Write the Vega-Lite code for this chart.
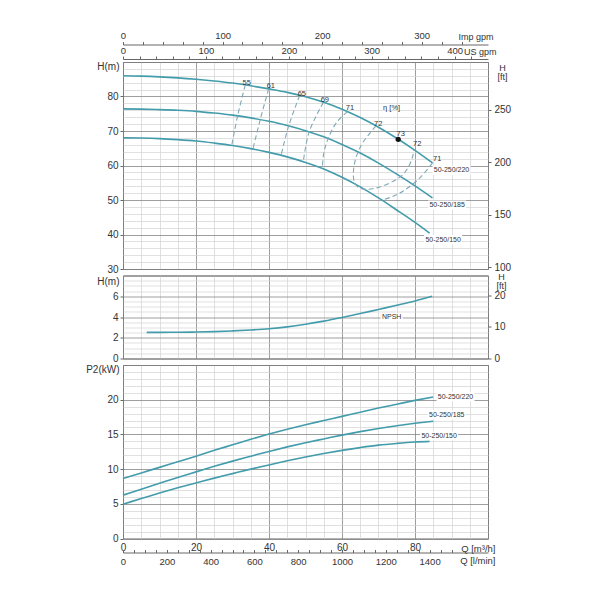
{
  "$schema": "https://vega.github.io/schema/vega-lite/v6.json",
  "background": "white",
  "padding": {"left": 85, "top": 30, "right": 92, "bottom": 35},
  "config": {
    "font": "Liberation Sans",
    "view": {"stroke": "#666666", "strokeWidth": 1},
    "axis": {
      "labelColor": "#333333", "titleColor": "#333333", "tickColor": "#666666", "domainColor": "#666666",
      "labelFontSize": 10, "titleFontSize": 10, "titleFontWeight": "normal",
      "labelOverlap": false, "labelFlush": false
    }
  },
  "datasets": {
    "head": [
      {"pump": "220", "Q": 0, "H": 86.0}, {"pump": "220", "Q": 5, "H": 85.9}, {"pump": "220", "Q": 10, "H": 85.7},
      {"pump": "220", "Q": 15, "H": 85.4}, {"pump": "220", "Q": 20, "H": 85.0}, {"pump": "220", "Q": 25, "H": 84.5},
      {"pump": "220", "Q": 30, "H": 83.9}, {"pump": "220", "Q": 35, "H": 83.1}, {"pump": "220", "Q": 40, "H": 82.2},
      {"pump": "220", "Q": 45, "H": 81.2}, {"pump": "220", "Q": 50, "H": 79.9}, {"pump": "220", "Q": 55, "H": 78.3},
      {"pump": "220", "Q": 60, "H": 76.3}, {"pump": "220", "Q": 65, "H": 73.9}, {"pump": "220", "Q": 70, "H": 71.1},
      {"pump": "220", "Q": 75, "H": 67.9}, {"pump": "220", "Q": 80, "H": 64.4}, {"pump": "220", "Q": 84.8, "H": 60.75},
      {"pump": "185", "Q": 0, "H": 76.4}, {"pump": "185", "Q": 5, "H": 76.35}, {"pump": "185", "Q": 10, "H": 76.2},
      {"pump": "185", "Q": 15, "H": 76.0}, {"pump": "185", "Q": 20, "H": 75.7}, {"pump": "185", "Q": 25, "H": 75.2},
      {"pump": "185", "Q": 30, "H": 74.6}, {"pump": "185", "Q": 35, "H": 73.8}, {"pump": "185", "Q": 40, "H": 72.8},
      {"pump": "185", "Q": 45, "H": 71.6}, {"pump": "185", "Q": 50, "H": 70.1}, {"pump": "185", "Q": 55, "H": 68.3},
      {"pump": "185", "Q": 60, "H": 66.1}, {"pump": "185", "Q": 65, "H": 63.6}, {"pump": "185", "Q": 70, "H": 60.7},
      {"pump": "185", "Q": 75, "H": 57.5}, {"pump": "185", "Q": 80, "H": 54.1}, {"pump": "185", "Q": 84.8, "H": 50.6},
      {"pump": "150", "Q": 0, "H": 68.0}, {"pump": "150", "Q": 5, "H": 67.95}, {"pump": "150", "Q": 10, "H": 67.8},
      {"pump": "150", "Q": 15, "H": 67.5}, {"pump": "150", "Q": 20, "H": 67.1}, {"pump": "150", "Q": 25, "H": 66.5},
      {"pump": "150", "Q": 30, "H": 65.8}, {"pump": "150", "Q": 35, "H": 64.9}, {"pump": "150", "Q": 40, "H": 63.8},
      {"pump": "150", "Q": 45, "H": 62.5}, {"pump": "150", "Q": 50, "H": 60.9}, {"pump": "150", "Q": 55, "H": 59.0},
      {"pump": "150", "Q": 60, "H": 56.6}, {"pump": "150", "Q": 65, "H": 53.8}, {"pump": "150", "Q": 70, "H": 50.6},
      {"pump": "150", "Q": 75, "H": 47.1}, {"pump": "150", "Q": 80, "H": 43.5}, {"pump": "150", "Q": 84, "H": 40.4}
    ],
    "eff": [
      {"id": "55", "k": 1, "Q": 33.5, "H": 83.35}, {"id": "55", "k": 2, "Q": 31.4, "H": 74.4}, {"id": "55", "k": 3, "Q": 29.8, "H": 65.85},
      {"id": "61", "k": 1, "Q": 39.9, "H": 82.2}, {"id": "61", "k": 2, "Q": 37.6, "H": 73.3}, {"id": "61", "k": 3, "Q": 35.6, "H": 64.8},
      {"id": "65", "k": 1, "Q": 48.4, "H": 80.3}, {"id": "65", "k": 2, "Q": 45.4, "H": 71.5}, {"id": "65", "k": 3, "Q": 43.3, "H": 62.95},
      {"id": "69", "k": 1, "Q": 54.9, "H": 78.3}, {"id": "69", "k": 2, "Q": 51.0, "H": 69.75}, {"id": "69", "k": 3, "Q": 49.4, "H": 61.1},
      {"id": "71L", "k": 1, "Q": 61.5, "H": 75.6}, {"id": "71L", "k": 2, "Q": 58.6, "H": 72.6}, {"id": "71L", "k": 3, "Q": 56.2, "H": 67.8},
      {"id": "71L", "k": 4, "Q": 55.0, "H": 63.5}, {"id": "71L", "k": 5, "Q": 54.6, "H": 59.15},
      {"id": "71R", "k": 1, "Q": 84.8, "H": 60.75}, {"id": "71R", "k": 2, "Q": 81.4, "H": 56.5}, {"id": "71R", "k": 3, "Q": 76.8, "H": 52.6},
      {"id": "71R", "k": 4, "Q": 73.6, "H": 50.9}, {"id": "71R", "k": 5, "Q": 70.9, "H": 49.95},
      {"id": "72", "k": 1, "Q": 69.3, "H": 71.5}, {"id": "72", "k": 2, "Q": 67.2, "H": 68.8}, {"id": "72", "k": 3, "Q": 65.4, "H": 66.1},
      {"id": "72", "k": 4, "Q": 63.9, "H": 62.5}, {"id": "72", "k": 5, "Q": 63.2, "H": 59.0}, {"id": "72", "k": 6, "Q": 63.3, "H": 55.5},
      {"id": "72", "k": 7, "Q": 64.4, "H": 53.7}, {"id": "72", "k": 8, "Q": 66.3, "H": 53.1}, {"id": "72", "k": 9, "Q": 69.0, "H": 53.4},
      {"id": "72", "k": 10, "Q": 72.2, "H": 54.5}, {"id": "72", "k": 11, "Q": 74.8, "H": 55.9}, {"id": "72", "k": 12, "Q": 76.8, "H": 57.5},
      {"id": "72", "k": 13, "Q": 78.4, "H": 60.0}, {"id": "72", "k": 14, "Q": 79.4, "H": 62.8}, {"id": "72", "k": 15, "Q": 79.7, "H": 64.6}
    ],
    "effLabels": [
      {"t": "55", "Q": 33.9, "H": 83.95}, {"t": "61", "Q": 40.5, "H": 83.0}, {"t": "65", "Q": 49.0, "H": 80.8},
      {"t": "69", "Q": 55.3, "H": 78.9}, {"t": "71", "Q": 62.2, "H": 76.6}, {"t": "72", "Q": 69.9, "H": 72.1},
      {"t": "73", "Q": 76.1, "H": 69.0}, {"t": "72", "Q": 80.6, "H": 66.1}, {"t": "71", "Q": 86.1, "H": 61.8},
      {"t": "η [%]", "Q": 73.6, "H": 76.6}
    ],
    "bep": [{"Q": 75.4, "H": 67.6}],
    "headLabels": [
      {"t": "50-250/220", "Q": 90.0, "H": 58.6},
      {"t": "50-250/185", "Q": 88.8, "H": 48.55},
      {"t": "50-250/150", "Q": 87.7, "H": 38.5}
    ],
    "npsh": [
      {"Q": 6.5, "H": 2.52}, {"Q": 10, "H": 2.52}, {"Q": 15, "H": 2.53}, {"Q": 20, "H": 2.55}, {"Q": 25, "H": 2.59},
      {"Q": 30, "H": 2.66}, {"Q": 35, "H": 2.75}, {"Q": 40, "H": 2.87}, {"Q": 45, "H": 3.05}, {"Q": 50, "H": 3.3},
      {"Q": 55, "H": 3.6}, {"Q": 60, "H": 3.95}, {"Q": 65, "H": 4.33}, {"Q": 70, "H": 4.73}, {"Q": 75, "H": 5.13},
      {"Q": 80, "H": 5.55}, {"Q": 84.7, "H": 6.0}
    ],
    "npshLabel": [{"t": "NPSH", "Q": 73.6, "H": 4.0}],
    "power": [
      {"pump": "220", "Q": 0, "P": 8.65}, {"pump": "220", "Q": 5, "P": 9.45}, {"pump": "220", "Q": 10, "P": 10.25},
      {"pump": "220", "Q": 15, "P": 11.05}, {"pump": "220", "Q": 20, "P": 11.85}, {"pump": "220", "Q": 25, "P": 12.7},
      {"pump": "220", "Q": 30, "P": 13.5}, {"pump": "220", "Q": 35, "P": 14.3}, {"pump": "220", "Q": 40, "P": 15.05},
      {"pump": "220", "Q": 45, "P": 15.75}, {"pump": "220", "Q": 50, "P": 16.4}, {"pump": "220", "Q": 55, "P": 17.0},
      {"pump": "220", "Q": 60, "P": 17.6}, {"pump": "220", "Q": 65, "P": 18.2}, {"pump": "220", "Q": 70, "P": 18.8},
      {"pump": "220", "Q": 75, "P": 19.35}, {"pump": "220", "Q": 80, "P": 19.9}, {"pump": "220", "Q": 85, "P": 20.4},
      {"pump": "185", "Q": 0, "P": 6.25}, {"pump": "185", "Q": 5, "P": 7.1}, {"pump": "185", "Q": 10, "P": 7.95},
      {"pump": "185", "Q": 15, "P": 8.8}, {"pump": "185", "Q": 20, "P": 9.6}, {"pump": "185", "Q": 25, "P": 10.4},
      {"pump": "185", "Q": 30, "P": 11.15}, {"pump": "185", "Q": 35, "P": 11.85}, {"pump": "185", "Q": 40, "P": 12.55},
      {"pump": "185", "Q": 45, "P": 13.2}, {"pump": "185", "Q": 50, "P": 13.8}, {"pump": "185", "Q": 55, "P": 14.35},
      {"pump": "185", "Q": 60, "P": 14.9}, {"pump": "185", "Q": 65, "P": 15.4}, {"pump": "185", "Q": 70, "P": 15.85},
      {"pump": "185", "Q": 75, "P": 16.25}, {"pump": "185", "Q": 80, "P": 16.6}, {"pump": "185", "Q": 85, "P": 16.9},
      {"pump": "150", "Q": 0, "P": 4.95}, {"pump": "150", "Q": 5, "P": 5.75}, {"pump": "150", "Q": 10, "P": 6.55},
      {"pump": "150", "Q": 15, "P": 7.3}, {"pump": "150", "Q": 20, "P": 8.0}, {"pump": "150", "Q": 25, "P": 8.7},
      {"pump": "150", "Q": 30, "P": 9.35}, {"pump": "150", "Q": 35, "P": 10.0}, {"pump": "150", "Q": 40, "P": 10.6},
      {"pump": "150", "Q": 45, "P": 11.2}, {"pump": "150", "Q": 50, "P": 11.75}, {"pump": "150", "Q": 55, "P": 12.25},
      {"pump": "150", "Q": 60, "P": 12.7}, {"pump": "150", "Q": 65, "P": 13.1}, {"pump": "150", "Q": 70, "P": 13.45},
      {"pump": "150", "Q": 75, "P": 13.7}, {"pump": "150", "Q": 80, "P": 13.9}, {"pump": "150", "Q": 84, "P": 14.0}
    ],
    "powerLabels": [
      {"t": "50-250/220", "Q": 91.1, "P": 20.45},
      {"t": "50-250/185", "Q": 88.7, "P": 17.8},
      {"t": "50-250/150", "Q": 86.6, "P": 14.8}
    ]
  },
  "spacing": 6.5,
  "bounds": "flush",
  "vconcat": [
    {
      "width": 365,
      "height": 207,
      "resolve": {"scale": {"x": "independent", "y": "independent"}},
      "layer": [
        {
          "data": {"name": "head"},
          "mark": {"type": "line", "color": "#439cab", "strokeWidth": 1.6, "interpolate": "monotone"},
          "encoding": {
            "x": {"field": "Q", "type": "quantitative", "scale": {"domain": [0, 100], "nice": false, "zero": false},
              "axis": {"orient": "bottom", "values": [0,5,10,15,20,25,30,35,40,45,50,55,60,65,70,75,80,85,90,95,100], "grid": true,
                "gridColor": {"condition": {"test": "datum.value % 20 == 0", "value": "#858585"}, "value": "#d2d2d2"},
                "gridWidth": {"condition": {"test": "datum.value % 20 == 0", "value": 0.8}, "value": 0.7},
                "labels": false, "ticks": false, "domain": false, "title": null}},
            "y": {"field": "H", "type": "quantitative", "scale": {"domain": [30, 90], "nice": false, "zero": false},
              "axis": {"orient": "left", "values": [30,32,34,36,38,40,42,44,46,48,50,52,54,56,58,60,62,64,66,68,70,72,74,76,78,80,82,84,86,88,90], "grid": true,
                "gridColor": {"condition": {"test": "datum.value % 10 == 0", "value": "#858585"}, "value": "#d2d2d2"},
                "gridWidth": {"condition": {"test": "datum.value % 10 == 0", "value": 0.8}, "value": 0.7},
                "labels": false, "ticks": false, "domain": false, "title": null}},
            "detail": {"field": "pump", "type": "nominal"}
          }
        },
        {
          "data": {"name": "eff"},
          "mark": {"type": "line", "color": "#7fa9b6", "strokeWidth": 1.1, "strokeDash": [5, 3], "interpolate": "catmull-rom"},
          "encoding": {
            "x": {"field": "Q", "type": "quantitative", "scale": {"domain": [0, 100], "nice": false, "zero": false}, "axis": null},
            "y": {"field": "H", "type": "quantitative", "scale": {"domain": [30, 90], "nice": false, "zero": false},
              "axis": {"orient": "left", "values": [30,40,50,60,70,80], "grid": false, "domain": false, "tickSize": 3, "labelPadding": 2,
                "title": "H(m)", "titleAngle": 0, "titleAlign": "right", "titleBaseline": "middle", "titleX": -4, "titleY": 4}},
            "detail": {"field": "id", "type": "nominal"},
            "order": {"field": "k", "type": "quantitative"}
          }
        },
        {
          "data": {"name": "headLabels"},
          "mark": {"type": "point", "shape": "M-1,-0.24H1V0.24H-1Z", "size": 1444, "filled": true, "color": "white", "opacity": 1, "strokeWidth": 0},
          "encoding": {
            "x": {"field": "Q", "type": "quantitative", "scale": {"domain": [0, 100], "nice": false, "zero": false},
              "axis": {"orient": "top", "offset": 17.5, "values": [0,5.4553,10.9106,16.3659,21.8212,27.2765,32.7318,38.1872,43.6425,49.0978,54.5531,60.0084,65.4637,70.919,76.3743,81.8296,87.2849,92.7402],
                "labelExpr": "round(datum.value/0.2727654) % 100 == 0 ? '' + round(datum.value/0.2727654) : ''",
                "grid": false, "tickSize": 3, "labelPadding": 1, "labelFontSize": 9.5,
                "title": "Imp gpm", "titleFontSize": 9, "titleAlign": "right", "titleBaseline": "middle", "titleX": 370, "titleY": -8}},
            "y": {"field": "H", "type": "quantitative", "scale": {"domain": [30, 90], "nice": false, "zero": false},
              "axis": {"orient": "right", "values": [30.48, 45.72, 60.96, 76.2], "labelExpr": "'' + round(datum.value/0.3048)",
                "grid": false, "domain": false, "tickSize": 3, "labelPadding": 3,
                "title": ["H", "[ft]"], "titleFontSize": 9, "titleLineHeight": 9, "titleAngle": 0, "titleAlign": "center", "titleBaseline": "top", "titleX": 14, "titleY": 1.5}}
          }
        },
        {
          "data": {"name": "headLabels"},
          "mark": {"type": "text", "fontSize": 7, "color": "#333333", "align": "center", "baseline": "middle"},
          "encoding": {
            "x": {"field": "Q", "type": "quantitative", "scale": {"domain": [0, 100], "nice": false, "zero": false},
              "axis": {"orient": "top", "offset": 3, "values": [0,4.5425,9.085,13.6275,18.17,22.7125,27.255,31.7975,36.34,40.8824,45.4249,49.9674,54.5099,59.0524,63.5949,68.1374,72.6799,77.2224,81.7649,86.3074,90.8499,95.3924],
                "labelExpr": "round(datum.value/0.2271247) % 100 == 0 ? '' + round(datum.value/0.2271247) : ''",
                "grid": false, "tickSize": 3, "labelPadding": 1, "labelFontSize": 9.5,
                "title": "US gpm", "titleFontSize": 9, "titleAlign": "right", "titleBaseline": "middle", "titleX": 373, "titleY": -8}},
            "y": {"field": "H", "type": "quantitative", "scale": {"domain": [30, 90], "nice": false, "zero": false}, "axis": null},
            "text": {"field": "t"}
          }
        },
        {
          "data": {"name": "effLabels"},
          "mark": {"type": "text", "fontSize": 7.5, "color": "#333333", "align": "center", "baseline": "middle"},
          "encoding": {
            "x": {"field": "Q", "type": "quantitative", "scale": {"domain": [0, 100], "nice": false, "zero": false}, "axis": null},
            "y": {"field": "H", "type": "quantitative", "scale": {"domain": [30, 90], "nice": false, "zero": false}, "axis": null},
            "text": {"field": "t"}
          }
        },
        {
          "data": {"name": "bep"},
          "mark": {"type": "point", "shape": "circle", "size": 28, "filled": true, "color": "#111111", "opacity": 1},
          "encoding": {
            "x": {"field": "Q", "type": "quantitative", "scale": {"domain": [0, 100], "nice": false, "zero": false}, "axis": null},
            "y": {"field": "H", "type": "quantitative", "scale": {"domain": [30, 90], "nice": false, "zero": false}, "axis": null}
          }
        }
      ]
    },
    {
      "width": 365,
      "height": 83,
      "resolve": {"scale": {"x": "independent", "y": "independent"}},
      "layer": [
        {
          "data": {"name": "npsh"},
          "mark": {"type": "line", "color": "#439cab", "strokeWidth": 1.6, "interpolate": "monotone"},
          "encoding": {
            "x": {"field": "Q", "type": "quantitative", "scale": {"domain": [0, 100], "nice": false, "zero": false},
              "axis": {"orient": "bottom", "values": [0,5,10,15,20,25,30,35,40,45,50,55,60,65,70,75,80,85,90,95,100], "grid": true,
                "gridColor": {"condition": {"test": "datum.value % 20 == 0", "value": "#858585"}, "value": "#d2d2d2"},
                "gridWidth": {"condition": {"test": "datum.value % 20 == 0", "value": 0.8}, "value": 0.7},
                "labels": false, "ticks": false, "domain": false, "title": null}},
            "y": {"field": "H", "type": "quantitative", "scale": {"domain": [0, 8], "nice": false, "zero": false},
              "axis": {"orient": "left", "values": [0,0.5,1,1.5,2,2.5,3,3.5,4,4.5,5,5.5,6,6.5,7,7.5,8], "grid": true,
                "gridColor": {"condition": {"test": "datum.value % 2 == 0", "value": "#858585"}, "value": "#d2d2d2"},
                "gridWidth": {"condition": {"test": "datum.value % 2 == 0", "value": 0.8}, "value": 0.7},
                "labels": false, "ticks": false, "domain": false, "title": null}}
          }
        },
        {
          "data": {"name": "npshLabel"},
          "mark": {"type": "point", "shape": "M-1,-0.35H1V0.35H-1Z", "size": 484, "filled": true, "color": "white", "opacity": 1, "strokeWidth": 0},
          "encoding": {
            "x": {"field": "Q", "type": "quantitative", "scale": {"domain": [0, 100], "nice": false, "zero": false}, "axis": null},
            "y": {"field": "H", "type": "quantitative", "scale": {"domain": [0, 8], "nice": false, "zero": false},
              "axis": {"orient": "left", "values": [0,2,4,6], "grid": false, "domain": false, "tickSize": 3, "labelPadding": 2,
                "title": "H(m)", "titleAngle": 0, "titleAlign": "right", "titleBaseline": "middle", "titleX": -4, "titleY": 5.5}}
          }
        },
        {
          "data": {"name": "npshLabel"},
          "mark": {"type": "text", "fontSize": 7, "color": "#333333", "align": "center", "baseline": "middle"},
          "encoding": {
            "x": {"field": "Q", "type": "quantitative", "scale": {"domain": [0, 100], "nice": false, "zero": false}, "axis": null},
            "y": {"field": "H", "type": "quantitative", "scale": {"domain": [0, 8], "nice": false, "zero": false},
              "axis": {"orient": "right", "values": [0, 3.048, 6.096], "labelExpr": "'' + round(datum.value/0.3048)",
                "grid": false, "domain": false, "tickSize": 3, "labelPadding": 3,
                "title": ["H", "[ft]"], "titleFontSize": 9, "titleLineHeight": 9, "titleAngle": 0, "titleAlign": "center", "titleBaseline": "top", "titleX": 13, "titleY": -3}},
            "text": {"field": "t"}
          }
        }
      ]
    },
    {
      "width": 365,
      "height": 173.5,
      "resolve": {"scale": {"x": "independent", "y": "independent"}},
      "layer": [
        {
          "data": {"name": "power"},
          "mark": {"type": "line", "color": "#439cab", "strokeWidth": 1.6, "interpolate": "monotone"},
          "encoding": {
            "x": {"field": "Q", "type": "quantitative", "scale": {"domain": [0, 100], "nice": false, "zero": false},
              "axis": {"orient": "bottom", "values": [0,5,10,15,20,25,30,35,40,45,50,55,60,65,70,75,80,85,90,95,100], "grid": true,
                "gridColor": {"condition": {"test": "datum.value % 20 == 0", "value": "#858585"}, "value": "#d2d2d2"},
                "gridWidth": {"condition": {"test": "datum.value % 20 == 0", "value": 0.8}, "value": 0.7},
                "labels": false, "ticks": false, "domain": false, "title": null}},
            "y": {"field": "P", "type": "quantitative", "scale": {"domain": [0, 25], "nice": false, "zero": false},
              "axis": {"orient": "left", "values": [0,1,2,3,4,5,6,7,8,9,10,11,12,13,14,15,16,17,18,19,20,21,22,23,24,25], "grid": true,
                "gridColor": {"condition": {"test": "datum.value % 5 == 0", "value": "#858585"}, "value": "#d2d2d2"},
                "gridWidth": {"condition": {"test": "datum.value % 5 == 0", "value": 0.8}, "value": 0.7},
                "labels": false, "ticks": false, "domain": false, "title": null}},
            "detail": {"field": "pump", "type": "nominal"}
          }
        },
        {
          "data": {"name": "powerLabels"},
          "mark": {"type": "point", "shape": "M-1,-0.24H1V0.24H-1Z", "size": 1444, "filled": true, "color": "white", "opacity": 1, "strokeWidth": 0},
          "encoding": {
            "x": {"field": "Q", "type": "quantitative", "scale": {"domain": [0, 100], "nice": false, "zero": false},
              "axis": {"orient": "bottom", "values": [0,20,40,60,80], "grid": false, "ticks": false, "domain": false, "labelPadding": 4,
                "title": "Q [m³/h]", "titleFontSize": 9.5, "titleAlign": "right", "titleBaseline": "middle", "titleX": 372, "titleY": 10}},
            "y": {"field": "P", "type": "quantitative", "scale": {"domain": [0, 25], "nice": false, "zero": false},
              "axis": {"orient": "left", "values": [0,5,10,15,20], "grid": false, "domain": false, "tickSize": 3, "labelPadding": 2,
                "title": "P2(kW)", "titleAngle": 0, "titleAlign": "right", "titleBaseline": "middle", "titleX": -4, "titleY": 4.3}}
          }
        },
        {
          "data": {"name": "powerLabels"},
          "mark": {"type": "text", "fontSize": 7, "color": "#333333", "align": "center", "baseline": "middle"},
          "encoding": {
            "x": {"field": "Q", "type": "quantitative", "scale": {"domain": [0, 100], "nice": false, "zero": false}, "axis": null},
            "y": {"field": "P", "type": "quantitative", "scale": {"domain": [0, 25], "nice": false, "zero": false}, "axis": null},
            "text": {"field": "t"}
          }
        }
      ]
    },
    {
      "width": 365,
      "height": 7,
      "view": {"stroke": null},
      "data": {"name": "powerLabels"},
      "mark": {"type": "text", "opacity": 0},
      "encoding": {
        "x": {"field": "Q", "type": "quantitative", "scale": {"domain": [0, 100], "nice": false, "zero": false},
          "axis": {"orient": "bottom", "values": [0,3,6,9,12,15,18,21,24,27,30,33,36,39,42,45,48,51,54,57,60,63,66,69,72,75,78,81,84,87,90],
            "labelExpr": "round(datum.value/0.06) % 200 == 0 ? '' + round(datum.value/0.06) : ''",
            "grid": false, "tickSize": -3, "labelPadding": 7, "labelFontSize": 9.5,
            "title": "Q [l/min]", "titleFontSize": 9.5, "titleAlign": "right", "titleBaseline": "middle", "titleX": 372, "titleY": 8}},
        "text": {"field": "t"}
      }
    }
  ]
}
